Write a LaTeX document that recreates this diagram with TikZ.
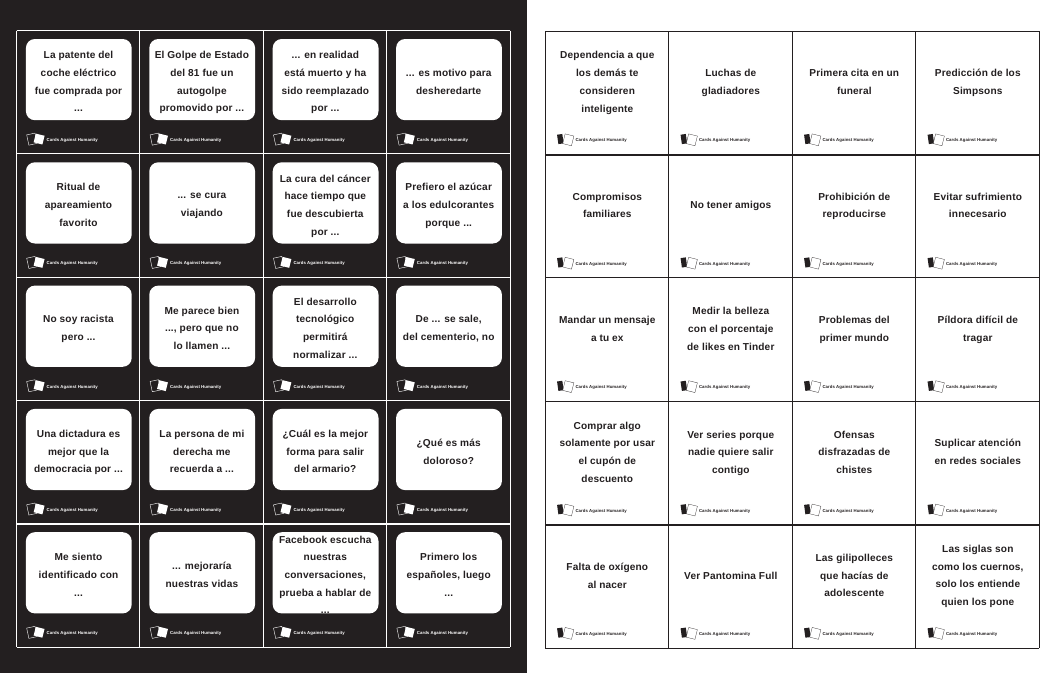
\documentclass[tikz,border=0pt]{standalone}
\usepackage{fontspec}
\setmainfont[LetterSpace=1.5]{Liberation Sans}
\definecolor{panel}{HTML}{231F20}
\tikzset{
  cardtext/.style={align=center,inner sep=0pt,font=\fontsize{10.1}{17.7}\selectfont\bfseries,
    execute at begin node=\strut,execute at end node=\strut},
  logotext/.style={anchor=west,inner sep=0pt,font=\fontsize{4.3}{4.5}\selectfont\bfseries},
  whitecard/.style={fill=white,rounded corners=9pt}
}
% logo: back card, front card, name
\newcommand{\darklogo}[3]{
  \draw[white,line width=0.4pt,rotate around={12:(#1+16,#2+114.8)}] (#1+12.5,#2+103.3) rectangle (#1+21,#2+113.8);
  \fill[white,rotate around={-14:(#1+22,#2+108.8)}] (#1+18,#2+103.8) rectangle (#1+27,#2+112.8);
  \node[logotext,white] (#3) at (#1+30,#2+109.8) {Cards Against Humanity};
}
\newcommand{\lightlogo}[3]{
  \fill[panel,rotate around={8:(#1+15,#2+108.8)}] (#1+12.5,#2+103.3) rectangle (#1+17.8,#2+112.8);
  \draw[panel,fill=white,line width=0.25pt,rotate around={-14:(#1+23,#2+108.8)}] (#1+18.5,#2+103.8) rectangle (#1+27.5,#2+113.8);
  \node[logotext,panel] (#3) at (#1+30,#2+109.8) {Cards Against Humanity};
}
\begin{document}
\begin{tikzpicture}[x=1pt,y=-1pt]
  \useasboundingbox (0,0) rectangle (1062,673);
  % Black sheet
  \fill[panel] (0,0) rectangle (527,673);
  \foreach \c/\r/\txt in {
    0/0/{La patente del\\coche eléctrico\\fue comprada por\\...},
    1/0/{El Golpe de Estado\\del 81 fue un\\autogolpe\\promovido por ...},
    2/0/{... en realidad\\está muerto y ha\\sido reemplazado\\por ...},
    3/0/{... es motivo para\\desheredarte},
    0/1/{Ritual de\\apareamiento\\favorito},
    1/1/{... se cura\\viajando},
    2/1/{La cura del cáncer\\hace tiempo que\\fue descubierta\\por ...},
    3/1/{Prefiero el azúcar\\a los edulcorantes\\porque ...},
    0/2/{No soy racista\\pero ...},
    1/2/{Me parece bien\\..., pero que no\\lo llamen ...},
    2/2/{El desarrollo\\tecnológico\\permitirá\\normalizar ...},
    3/2/{De ... se sale,\\del cementerio, no},
    0/3/{Una dictadura es\\mejor que la\\democracia por ...},
    1/3/{La persona de mi\\derecha me\\recuerda a ...},
    2/3/{¿Cuál es la mejor\\forma para salir\\del armario?},
    3/3/{¿Qué es más\\doloroso?},
    0/4/{Me siento\\identificado con\\...},
    1/4/{... mejoraría\\nuestras vidas},
    2/4/{Facebook escucha\\nuestras\\conversaciones,\\prueba a hablar de\\...},
    3/4/{Primero los\\españoles, luego\\...}}{
    \pgfmathsetmacro{\xx}{16.5+123.4*\c}
    \pgfmathsetmacro{\yy}{30.6+123.3*\r}
    \fill[whitecard] (\xx+9.4,\yy+8.4) rectangle (\xx+115.2,\yy+89.6);
    \node[cardtext,panel] (black\c\r) at (\xx+62,\yy+53.6) {\txt};
    \darklogo{\xx}{\yy}{blacklogo\c\r}
  }
  % Grid of the black sheet
  \foreach \r in {0,...,5}
    \draw[white,line width=1pt] (16.5,30.6+123.3*\r) -- (510.1,30.6+123.3*\r);
  \foreach \c in {0,...,4}
    \draw[white,line width=1pt] (16.5+123.4*\c,30.6) -- (16.5+123.4*\c,647.1);
  \draw[white,line width=1.5pt] (16.5,523.8) -- (510.1,523.8);

  % White sheet
  \foreach \c/\r/\txt in {
    0/0/{Dependencia a que\\los demás te\\consideren\\inteligente},
    1/0/{Luchas de\\gladiadores},
    2/0/{Primera cita en un\\funeral},
    3/0/{Predicción de los\\Simpsons},
    0/1/{Compromisos\\familiares},
    2/1/{Prohibición de\\reproducirse},
    3/1/{Evitar sufrimiento\\innecesario},
    0/2/{Mandar un mensaje\\a tu ex},
    1/2/{Medir la belleza\\con el porcentaje\\de likes en Tinder},
    2/2/{Problemas del\\primer mundo},
    3/2/{Píldora difícil de\\tragar},
    0/3/{Comprar algo\\solamente por usar\\el cupón de\\descuento},
    1/3/{Ver series porque\\nadie quiere salir\\contigo},
    2/3/{Ofensas\\disfrazadas de\\chistes},
    3/3/{Suplicar atención\\en redes sociales},
    0/4/{Falta de oxígeno\\al nacer},
    2/4/{Las gilipolleces\\que hacías de\\adolescente},
    3/4/{Las siglas son\\como los cuernos,\\solo los entiende\\quien los pone}}{
    \pgfmathsetmacro{\xx}{545.3+123.5*\c}
    \pgfmathsetmacro{\yy}{31+123.4*\r}
    \node[cardtext,panel] (white\c\r) at (\xx+62,\yy+53.5) {\txt};
  }
  % One line cards
  \node[cardtext,panel] (white11) at (730.8,205.4) {No tener amigos};
  \node[cardtext,panel] (white14) at (730.8,575.6) {Ver Pantomina Full};
  \foreach \c in {0,...,3}
    \foreach \r in {0,...,4} {
      \pgfmathsetmacro{\xx}{545.3+123.5*\c}
      \pgfmathsetmacro{\yy}{31+123.4*\r}
      \lightlogo{\xx}{\yy}{whitelogo\c\r}
    }
  % Grid of the white sheet
  \foreach \r in {0,...,5}
    \draw[panel,line width=1pt] (545.3,31+123.4*\r) -- (1039.3,31+123.4*\r);
  \foreach \c in {0,...,4}
    \draw[panel,line width=1pt] (545.3+123.5*\c,31) -- (545.3+123.5*\c,648);
  \draw[panel,line width=2pt] (545.3,154.8) -- (1039.3,154.8);
  \draw[panel,line width=2pt] (545.3,524.8) -- (1039.3,524.8);
\end{tikzpicture}
\end{document}
